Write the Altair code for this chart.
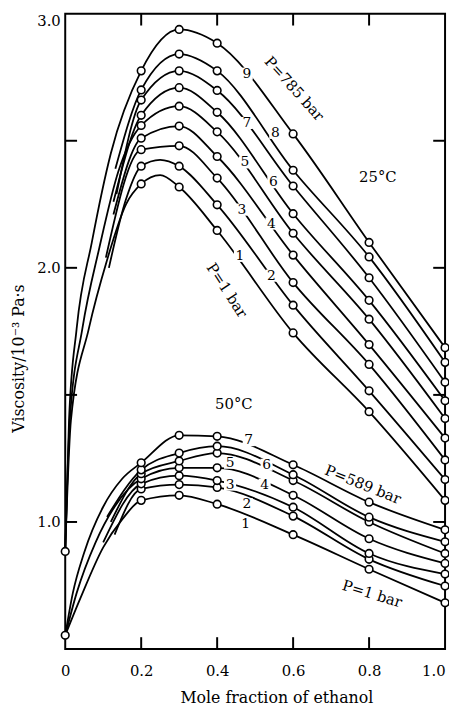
import altair as alt
import pandas as pd

# ---------------- data ----------------
circle_x = [0.2, 0.3, 0.4, 0.6, 0.8, 1.0]

# 25 °C : curves 1 (P = 1 bar) ... 9 (P = 785 bar), viscosity at circle_x
v25 = [
    [2.33, 2.318, 2.147, 1.744, 1.434, 1.085],
    [2.40, 2.40, 2.248, 1.853, 1.516, 1.167],
    [2.465, 2.48, 2.353, 1.942, 1.62, 1.244],
    [2.51, 2.558, 2.438, 2.05, 1.698, 1.33],
    [2.56, 2.636, 2.535, 2.136, 1.798, 1.407],
    [2.60, 2.709, 2.612, 2.213, 1.872, 1.477],
    [2.66, 2.775, 2.698, 2.322, 1.961, 1.55],
    [2.70, 2.841, 2.775, 2.384, 2.043, 1.628],
    [2.775, 2.938, 2.884, 2.527, 2.10, 1.686],
]
# 50 °C : curves 1 (P = 1 bar) ... 7 (P = 589 bar)
v50 = [
    [1.085, 1.105, 1.07, 0.95, 0.814, 0.682],
    [1.13, 1.147, 1.136, 1.023, 0.853, 0.748],
    [1.15, 1.182, 1.163, 1.058, 0.876, 0.795],
    [1.17, 1.213, 1.213, 1.105, 0.934, 0.837],
    [1.19, 1.24, 1.271, 1.163, 1.0, 0.876],
    [1.205, 1.271, 1.298, 1.186, 1.019, 0.922],
    [1.233, 1.341, 1.337, 1.225, 1.078, 0.969],
]
# pure water (x = 0)
water25 = 0.884
water50 = 0.554

# traced line points without circles (start of the drawn curves, peaks)
trace25_x = [
    [0, 0.015, 0.062, 0.11, 0.16, 0.25],
    [0.115, 0.16, 0.25],
    [0.107],
    [0.127],
    [0, 0.012, 0.045, 0.09, 0.14],
    [0.127],
    [0.135],
    [0.132],
    [0, 0.01, 0.03, 0.07, 0.12],
]
trace25_y = [
    [0.884, 1.4, 1.76, 2.03, 2.25, 2.365],
    [2.0, 2.27, 2.425],
    [2.04],
    [2.21],
    [0.884, 1.4, 1.76, 2.08, 2.38],
    [2.26],
    [2.29],
    [2.39],
    [0.884, 1.4, 1.76, 2.1, 2.45],
]
trace50_x = [
    [0, 0.04, 0.1, 0.15],
    [0.13],
    [0.1],
    [0, 0.03, 0.08, 0.13],
    [0.12],
    [0.11],
    [0, 0.02, 0.05, 0.1, 0.15],
]
trace50_y = [
    [0.554, 0.70, 0.90, 1.01],
    [0.95],
    [0.92],
    [0.554, 0.72, 0.92, 1.06],
    [1.0],
    [1.02],
    [0.554, 0.72, 0.88, 1.06, 1.17],
]

# curve numbers (on the curves)
num_text = ["1", "2", "3", "4", "5", "6", "7", "8", "9",
            "1", "2", "3", "4", "5", "6", "7"]
num_x = [0.46, 0.543, 0.465, 0.543, 0.473, 0.548, 0.478, 0.553, 0.478,
         0.475, 0.478, 0.434, 0.525, 0.434, 0.530, 0.483]
num_y = [2.047, 1.969, 2.229, 2.174, 2.415, 2.337, 2.57, 2.531, 2.764,
         0.992, 1.07, 1.147, 1.147, 1.233, 1.225, 1.322]

# other annotations
ann_text = ["P=785 bar", "P=1 bar", "25°C", "50°C", "P=589 bar", "P=1 bar"]
ann_x = [0.603, 0.426, 0.823, 0.444, 0.784, 0.808]
ann_y = [2.705, 1.911, 2.357, 1.465, 1.147, 0.717]
ann_angle = [48, 57, 0, 0, 22, 17]

# axis ticks
x_label_vals = [0, 0.2, 0.4, 0.6, 0.8, 1.0]
y_label_vals = [1.0, 2.0, 3.0]
x_tick_vals = [0.2, 0.4, 0.6, 0.8]
y_tick_vals = [1.0, 1.5, 2.0, 2.5]

# ---------------- tables ----------------
rows = []
for temp, vals, tx, ty in (("25", v25, trace25_x, trace25_y),
                           ("50", v50, trace50_x, trace50_y)):
    for i, v in enumerate(vals):
        sid = f"{temp}-{i + 1}"
        for x, y in zip(tx[i], ty[i]):
            rows.append({"s": sid, "x": x, "y": y, "circle": False})
        for x, y in zip(circle_x, v):
            rows.append({"s": sid, "x": x, "y": y, "circle": True})
lines_df = pd.DataFrame(rows).sort_values(["s", "x"])
circ_df = lines_df[lines_df["circle"]].copy()
circ_df = pd.concat([circ_df, pd.DataFrame([
    {"s": "w25", "x": 0.0, "y": water25, "circle": True},
    {"s": "w50", "x": 0.0, "y": water50, "circle": True}])])

num_df = pd.DataFrame({"t": num_text, "x": num_x, "y": num_y})
ann_df = pd.DataFrame({"t": ann_text, "x": ann_x, "y": ann_y, "a": ann_angle})
xt_df = pd.DataFrame({"x": x_tick_vals})
yt_df = pd.DataFrame({"y": y_tick_vals})

# ---------------- chart ----------------
W, H, TL = 385, 644, 12
FONT = "DejaVu Serif"
xs = alt.Scale(domain=[0, 1], nice=False, zero=False)
ys = alt.Scale(domain=[0.5, 3.0], nice=False, zero=False)

x_bottom = alt.Axis(
    orient="bottom", values=x_label_vals,
    labelExpr="datum.value == 0 ? '0' : format(datum.value, '.1f')",
    labelAlign={"condition": {"test": "datum.value > 0.99", "value": "right"}, "value": "center"},
    domain=False, tickSize=0, tickOpacity=0, grid=False, labelPadding=15,
    title="Mole fraction of ethanol", titleX=214, titleY=49,
    titleAlign="center", titleBaseline="middle")
y_left = alt.Axis(
    orient="left", values=y_label_vals,
    labelExpr="format(datum.value, '.1f')",
    labelBaseline={"condition": {"test": "datum.value > 2.99", "value": "top"}, "value": "middle"},
    domain=False, tickSize=0, tickOpacity=0, grid=False, labelPadding=5,
    title="Viscosity/10⁻³ Pa·s", titleX=-47, titleY=349, titleAngle=-90,
    titleAlign="center", titleBaseline="middle")

lines = alt.Chart(lines_df).mark_line(
    interpolate="monotone", color="black", strokeWidth=1.8
).encode(
    x=alt.X("x:Q", scale=xs, axis=x_bottom),
    y=alt.Y("y:Q", scale=ys, axis=y_left),
    detail="s:N", order="x:Q")

XN = alt.X("x:Q", scale=xs, axis=None)
YN = alt.Y("y:Q", scale=ys, axis=None)

num_bg = alt.Chart(num_df).mark_point(
    shape="square", filled=True, color="white", opacity=1, size=150
).encode(x=XN, y=YN)

circles = alt.Chart(circ_df).mark_point(
    shape="circle", filled=True, fill="white", stroke="black", strokeWidth=1.6,
    opacity=1, size=60
).encode(x=XN, y=YN)

nums = alt.Chart(num_df).mark_text(
    font=FONT, fontSize=14, color="black", baseline="middle", align="center"
).encode(x=XN, y=YN, text="t:N")

anns = alt.Chart(ann_df).mark_text(
    font=FONT, fontSize=15, color="black", baseline="middle", align="center"
).encode(x=XN, y=YN, text="t:N", angle=alt.Angle("a:Q", scale=None))

# inward ticks on the four sides
tick_style = dict(color="black", strokeWidth=2)
t_bottom = alt.Chart(xt_df).mark_rule(**tick_style).encode(
    x=XN, y=alt.value(H), y2=alt.value(H - TL))
t_top = alt.Chart(xt_df).mark_rule(**tick_style).encode(
    x=XN, y=alt.value(0), y2=alt.value(TL))
t_left = alt.Chart(yt_df).mark_rule(**tick_style).encode(
    y=YN, x=alt.value(0), x2=alt.value(TL))
t_right = alt.Chart(yt_df).mark_rule(**tick_style).encode(
    y=YN, x=alt.value(W), x2=alt.value(W - TL))

chart = alt.layer(
    lines, t_bottom, t_top, t_left, t_right, num_bg, circles, nums, anns
).resolve_axis(
    x="independent", y="independent"
).properties(
    width=W, height=H,
    autosize=alt.AutoSizeParams(type="none"),
    padding={"left": 58, "top": 1, "right": 4, "bottom": 55},
).configure_view(
    stroke="black", strokeWidth=2
).configure_axis(
    labelFont=FONT, titleFont=FONT, labelFontSize=15, titleFontSize=16,
    labelColor="black", titleColor="black",
    titleFontWeight="normal"
)

chart.save("out.html", embed_options={"renderer": "svg", "actions": False})
